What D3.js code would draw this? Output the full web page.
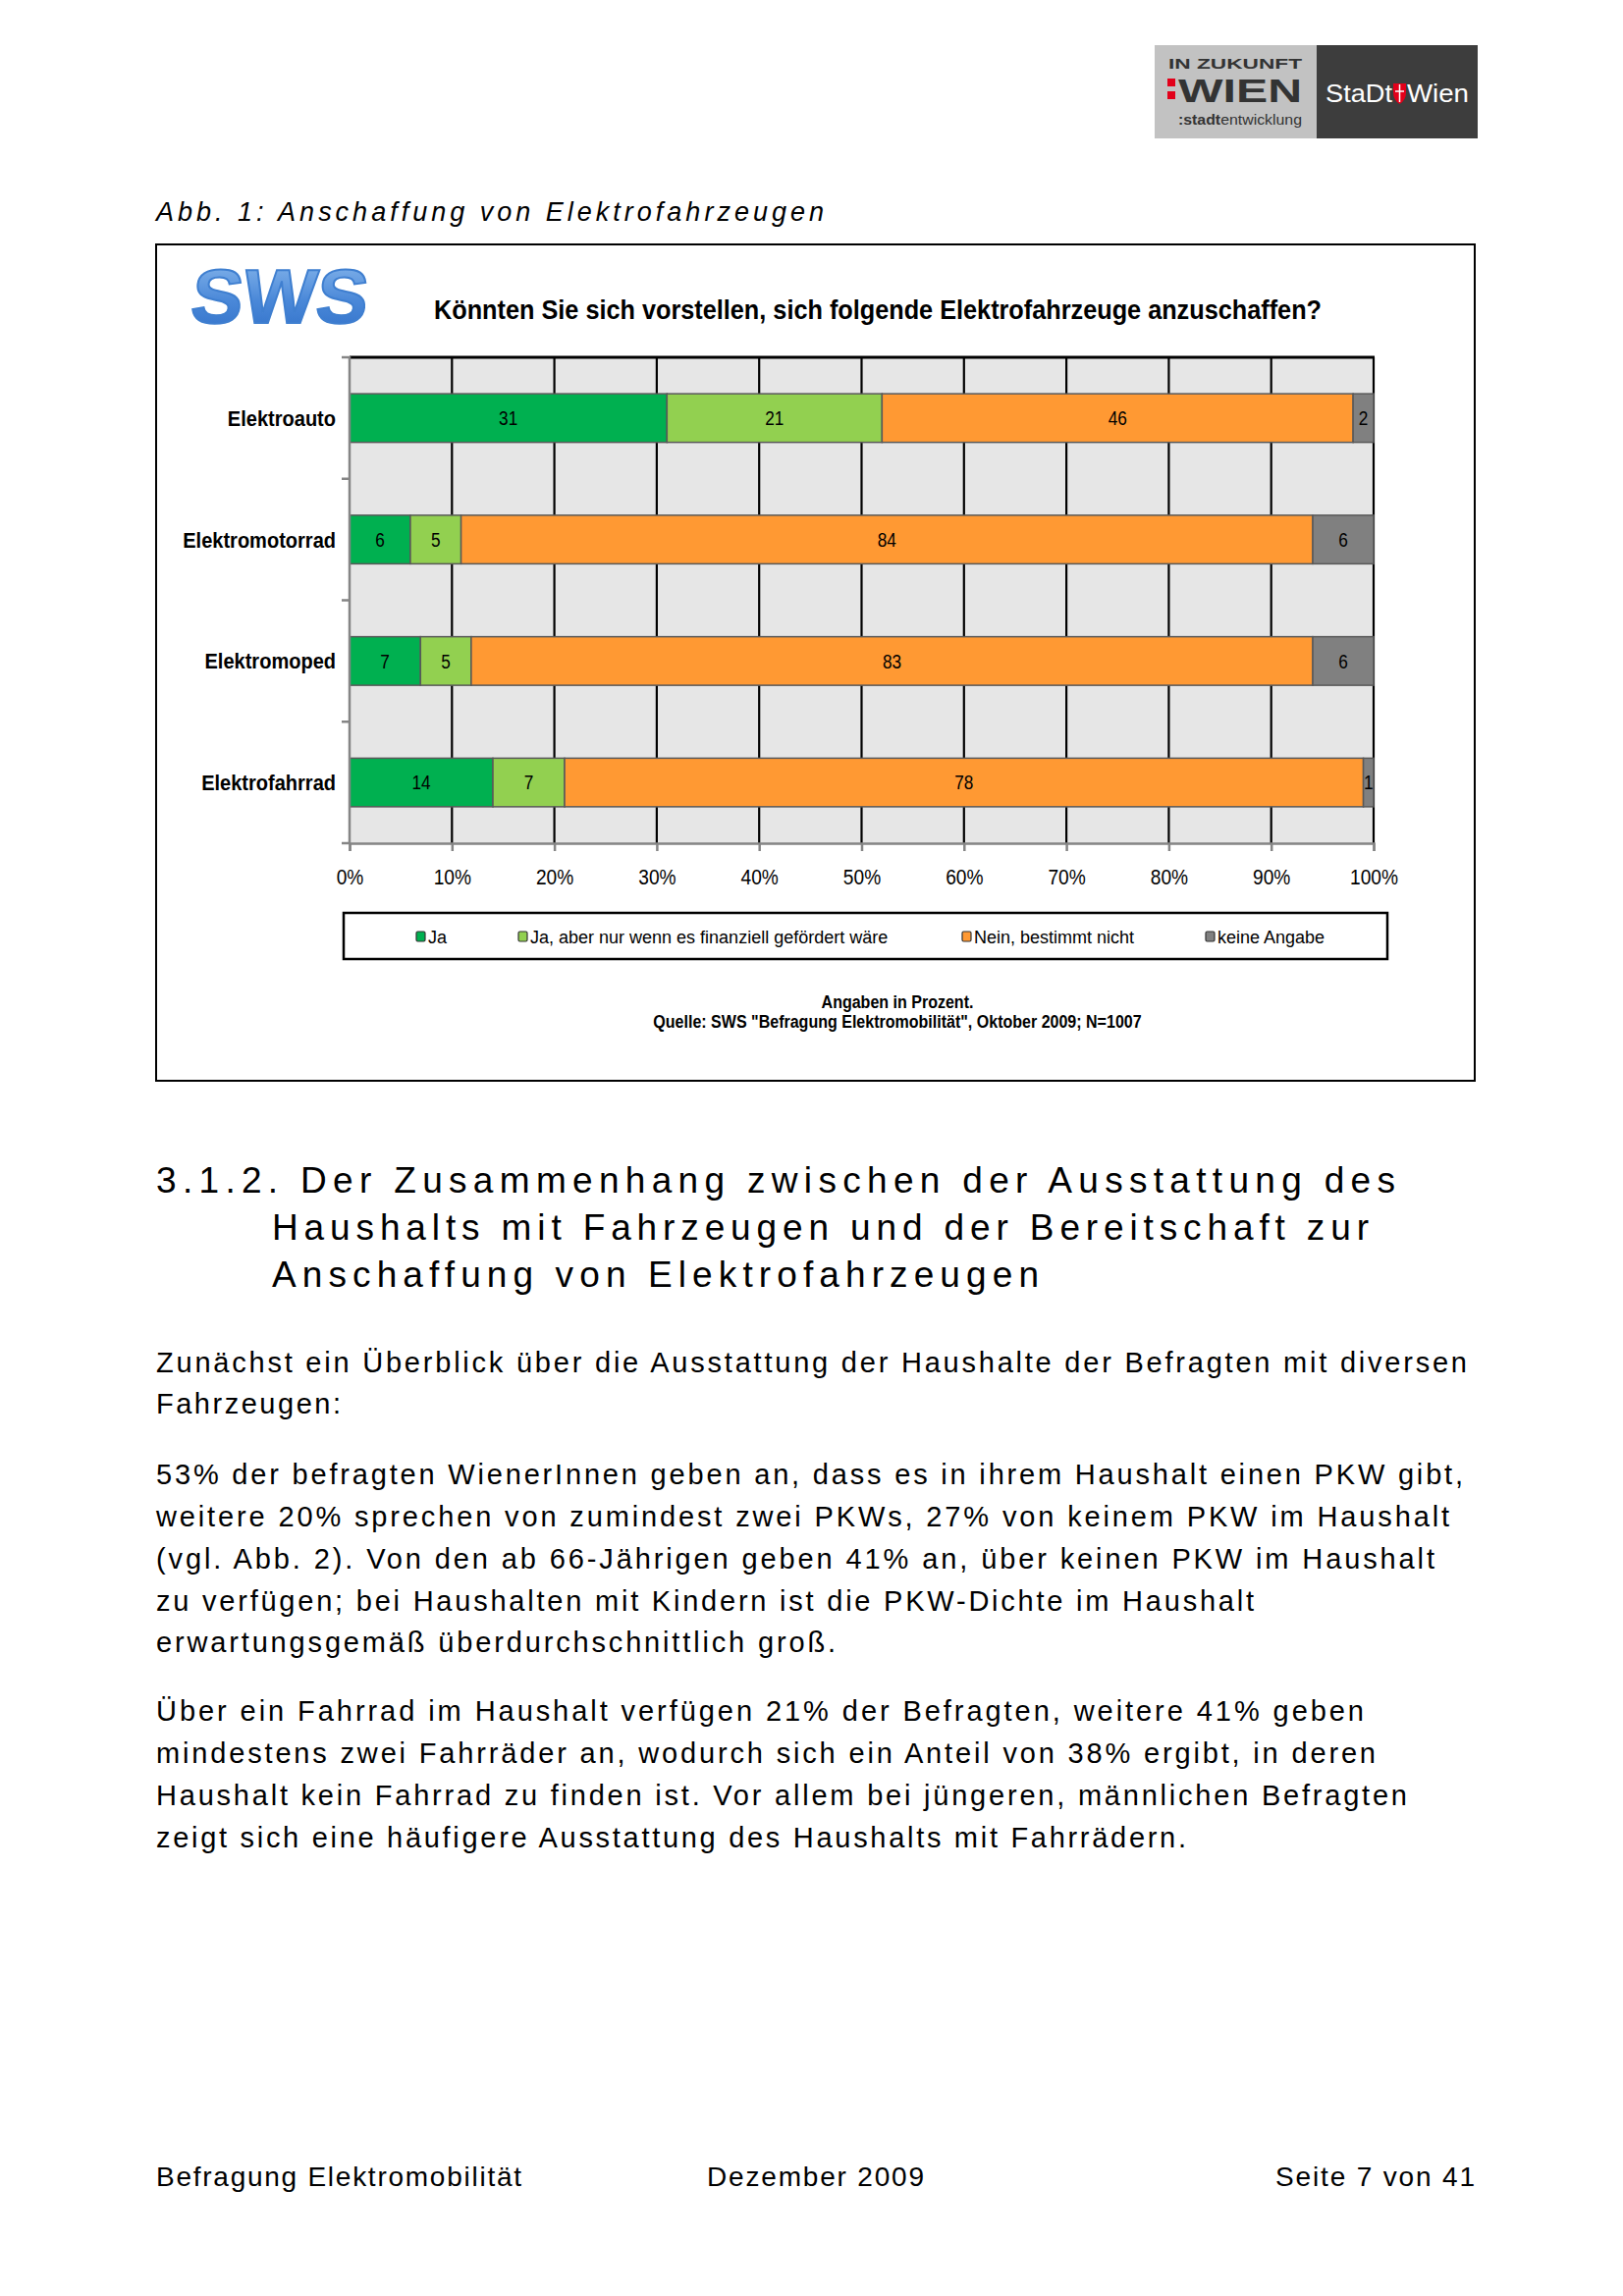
<!DOCTYPE html>
<html>
<head>
<meta charset="utf-8">
<script src="https://cdn.jsdelivr.net/npm/d3@7"></script>
<style>
body { margin: 0; background: #fff; }
svg text { font-family: "Liberation Sans", Arial, sans-serif; }
</style>
</head>
<body>
<script>
// ---------------- data ----------------
var categories = ["Elektroauto", "Elektromotorrad", "Elektromoped", "Elektrofahrrad"];
var seriesKeys = ["ja", "jaAber", "nein", "keine"];
var seriesNames = ["Ja", "Ja, aber nur wenn es finanziell gefördert wäre", "Nein, bestimmt nicht", "keine Angabe"];
var valJa     = [31, 6, 7, 14];
var valJaAber = [21, 5, 5, 7];
var valNein   = [46, 84, 83, 78];
var valKeine  = [2, 6, 6, 1];
var xTicks = [0, 10, 20, 30, 40, 50, 60, 70, 80, 90, 100];
var xTickLabels = xTicks.map(function (d) { return d + "%"; });
var colors = ["#00b050", "#92d050", "#ff9933", "#808080"];

var chartTitle = "Könnten Sie sich vorstellen, sich folgende Elektrofahrzeuge anzuschaffen?";
var note1 = "Angaben in Prozent.";
var note2 = "Quelle: SWS \"Befragung Elektromobilität\", Oktober 2009; N=1007";

// page text (line by line as in the document)
var caption = "Abb. 1: Anschaffung von Elektrofahrzeugen";
var headingLines = [
    "3.1.2. Der Zusammenhang zwischen der Ausstattung des",
    "Haushalts mit Fahrzeugen und der Bereitschaft zur",
    "Anschaffung von Elektrofahrzeugen"
];
var bodyLines = [
    "Zunächst ein Überblick über die Ausstattung der Haushalte der Befragten mit diversen",
    "Fahrzeugen:",
    "53% der befragten WienerInnen geben an, dass es in ihrem Haushalt einen PKW gibt,",
    "weitere 20% sprechen von zumindest zwei PKWs, 27% von keinem PKW im Haushalt",
    "(vgl. Abb. 2). Von den ab 66-Jährigen geben 41% an, über keinen PKW im Haushalt",
    "zu verfügen; bei Haushalten mit Kindern ist die PKW-Dichte im Haushalt",
    "erwartungsgemäß überdurchschnittlich groß.",
    "Über ein Fahrrad im Haushalt verfügen 21% der Befragten, weitere 41% geben",
    "mindestens zwei Fahrräder an, wodurch sich ein Anteil von 38% ergibt, in deren",
    "Haushalt kein Fahrrad zu finden ist. Vor allem bei jüngeren, männlichen Befragten",
    "zeigt sich eine häufigere Ausstattung des Haushalts mit Fahrrädern."
];
var footerTexts = ["Befragung Elektromobilität", "Dezember 2009", "Seite 7 von 41"];

// ---------------- layout ----------------
var W = 1653, H = 2339;
var plot = { left: 356, right: 1399, top: 364, bottom: 859 };

// no narrow font installed: squeeze a text horizontally to mimic Arial Narrow
function condense(sel, f) {
    sel.each(function () {
        var L = this.getComputedTextLength();
        d3.select(this).attr("textLength", L * f).attr("lengthAdjust", "spacingAndGlyphs");
    });
}

var svg = d3.select("body").append("svg")
    .attr("width", W)
    .attr("height", H);

svg.append("rect").attr("width", W).attr("height", H).attr("fill", "#fff");

// ---------------- logo top right ----------------
var logo = svg.append("g");
logo.append("rect").attr("x", 1176).attr("y", 46).attr("width", 165).attr("height", 95).attr("fill", "#c2c2c2");
logo.append("rect").attr("x", 1341).attr("y", 46).attr("width", 164).attr("height", 95).attr("fill", "#3d3d3d");
logo.append("text").attr("x", 1190).attr("y", 70).attr("font-size", 14).attr("font-weight", "bold")
    .attr("fill", "#333").attr("textLength", 136).attr("lengthAdjust", "spacingAndGlyphs").text("IN ZUKUNFT");
logo.append("rect").attr("x", 1189).attr("y", 80).attr("width", 8).attr("height", 8).attr("fill", "#e2001a");
logo.append("rect").attr("x", 1189).attr("y", 93).attr("width", 8).attr("height", 8).attr("fill", "#e2001a");
logo.append("text").attr("x", 1200).attr("y", 104).attr("font-size", 34).attr("font-weight", "bold")
    .attr("fill", "#333").attr("textLength", 126).attr("lengthAdjust", "spacingAndGlyphs").text("WIEN");
var st = logo.append("text").attr("x", 1200).attr("y", 127).attr("font-size", 15)
    .attr("fill", "#333").attr("textLength", 126).attr("lengthAdjust", "spacingAndGlyphs");
st.append("tspan").attr("font-weight", "bold").text(":stadt");
st.append("tspan").text("entwicklung");
logo.append("text").attr("x", 1350).attr("y", 104).attr("font-size", 25)
    .attr("font-family", "'Liberation Serif', 'DejaVu Serif', serif")
    .attr("fill", "#fff").attr("textLength", 68).attr("lengthAdjust", "spacingAndGlyphs").text("StaDt");
logo.append("path").attr("d", "M1419,85 h13 v9 q0,8 -6.5,12 q-6.5,-4 -6.5,-12 z").attr("fill", "#e2001a");
logo.append("path").attr("d", "M1425.5,86 v18 M1421,93 h9").attr("stroke", "#fff").attr("stroke-width", 1.5);
logo.append("text").attr("x", 1433).attr("y", 104).attr("font-size", 25)
    .attr("font-family", "'Liberation Serif', 'DejaVu Serif', serif")
    .attr("fill", "#fff").attr("textLength", 63).attr("lengthAdjust", "spacingAndGlyphs").text("Wien");

// ---------------- caption ----------------
svg.append("text")
    .attr("x", 159).attr("y", 225)
    .attr("font-size", 27).attr("font-style", "italic")
    .attr("textLength", 680).attr("lengthAdjust", "spacing")
    .text(caption);

// ---------------- chart frame ----------------
svg.append("rect")
    .attr("x", 159).attr("y", 249).attr("width", 1343).attr("height", 852)
    .attr("fill", "#fff").attr("stroke", "#000").attr("stroke-width", 2);

// SWS logo
var grad = svg.append("defs").append("linearGradient")
    .attr("id", "swsGrad").attr("x1", 0).attr("y1", 0).attr("x2", 0).attr("y2", 1);
grad.append("stop").attr("offset", "0%").attr("stop-color", "#8dbbee");
grad.append("stop").attr("offset", "55%").attr("stop-color", "#4a88d8");
grad.append("stop").attr("offset", "100%").attr("stop-color", "#2f6fc8");
svg.append("text")
    .attr("x", 193).attr("y", 329)
    .attr("font-size", 78).attr("font-weight", "bold")
    .attr("fill", "url(#swsGrad)")
    .attr("stroke", "#3f7fd0").attr("stroke-width", 2)
    .attr("transform", "skewX(-6) translate(34,0)")
    .attr("textLength", 180).attr("lengthAdjust", "spacingAndGlyphs")
    .text("SWS");

// title
svg.append("text")
    .attr("x", 442).attr("y", 325)
    .attr("font-size", 27).attr("font-weight", "bold")
    .attr("textLength", 904).attr("lengthAdjust", "spacingAndGlyphs")
    .text(chartTitle);

// ---------------- the bar chart ----------------
var table = categories.map(function (c, i) {
    return { cat: c, ja: valJa[i], jaAber: valJaAber[i], nein: valNein[i], keine: valKeine[i] };
});

var stack = d3.stack().keys(seriesKeys).offset(d3.stackOffsetExpand);
var series = stack(table);

var x = d3.scaleLinear().domain([0, 1]).range([plot.left, plot.right]);
var y = d3.scaleBand().domain(categories).range([plot.top, plot.bottom])
    .paddingInner(0.6).paddingOuter(0.3);

// background
svg.append("rect")
    .attr("x", plot.left).attr("y", plot.top)
    .attr("width", plot.right - plot.left).attr("height", plot.bottom - plot.top)
    .attr("fill", "#e6e6e6");

// vertical gridlines
svg.append("g").selectAll("line")
    .data(xTicks.slice(1))
    .enter().append("line")
    .attr("x1", function (d) { return x(d / 100); })
    .attr("x2", function (d) { return x(d / 100); })
    .attr("y1", plot.top).attr("y2", plot.bottom)
    .attr("stroke", "#000").attr("stroke-width", 2.2);

// top border
svg.append("line")
    .attr("x1", plot.left).attr("x2", plot.right + 1)
    .attr("y1", plot.top).attr("y2", plot.top)
    .attr("stroke", "#000").attr("stroke-width", 3);

// bars
var layer = svg.append("g").selectAll("g")
    .data(series)
    .enter().append("g")
    .attr("fill", function (d, i) { return colors[i]; });

layer.selectAll("rect")
    .data(function (d) { return d; })
    .enter().append("rect")
    .attr("x", function (d) { return x(d[0]); })
    .attr("y", function (d) { return y(d.data.cat); })
    .attr("width", function (d) { return x(d[1]) - x(d[0]); })
    .attr("height", y.bandwidth())
    .attr("stroke", "#595959").attr("stroke-width", 1.5);

// value labels
series.forEach(function (s) {
    svg.append("g").selectAll("text")
        .data(s)
        .enter().append("text")
        .attr("x", function (d) { return (x(d[0]) + x(d[1])) / 2; })
        .attr("y", function (d) { return y(d.data.cat) + y.bandwidth() / 2; })
        .attr("dy", "0.36em")
        .attr("text-anchor", "middle")
        .attr("font-size", 20)
        .text(function (d) { return d.data[s.key]; })
        .call(condense, 0.86);
});

// y axis
var yAxis = svg.append("g").attr("transform", "translate(" + plot.left + ",0)");
yAxis.append("line").attr("y1", plot.top - 1).attr("y2", plot.bottom + 1)
    .attr("stroke", "#858585").attr("stroke-width", 2.5);
var yBounds = d3.range(categories.length + 1).map(function (i) { return plot.top + i * y.step(); });
yAxis.selectAll(".tk").data(yBounds).enter().append("line")
    .attr("x1", -8).attr("x2", 0)
    .attr("y1", function (d) { return d; }).attr("y2", function (d) { return d; })
    .attr("stroke", "#858585").attr("stroke-width", 2.5);
yAxis.selectAll(".lbl").data(categories).enter().append("text")
    .attr("x", -14)
    .attr("y", function (d) { return y(d) + y.bandwidth() / 2; })
    .attr("dy", "0.36em")
    .attr("text-anchor", "end")
    .attr("font-weight", "bold")
    .attr("font-size", 22)
    .text(function (d) { return d; })
    .call(condense, 0.91);

// x axis
var xAxis = d3.axisBottom(x)
    .tickValues(xTicks.map(function (d) { return d / 100; }))
    .tickFormat(function (d, i) { return xTickLabels[i]; })
    .tickSize(8)
    .tickPadding(18);
var gx = svg.append("g").attr("transform", "translate(0," + plot.bottom + ")").call(xAxis);
gx.select(".domain").attr("stroke", "#858585").attr("stroke-width", 2.5);
gx.selectAll(".tick line").attr("stroke", "#858585").attr("stroke-width", 2.5);
gx.selectAll(".tick text")
    .attr("font-family", "Liberation Sans, Arial, sans-serif")
    .attr("font-size", 22).attr("fill", "#000")
    .call(condense, 0.87);

// legend
var legendX = [424, 528, 980, 1228];
svg.append("rect")
    .attr("x", 350).attr("y", 930).attr("width", 1063).attr("height", 47)
    .attr("fill", "#fff").attr("stroke", "#000").attr("stroke-width", 2.5);
var leg = svg.append("g").selectAll("g")
    .data(seriesNames)
    .enter().append("g")
    .attr("transform", function (d, i) { return "translate(" + legendX[i] + ",955)"; });
leg.append("rect")
    .attr("x", 0).attr("y", -6).attr("width", 9).attr("height", 10)
    .attr("rx", 1.5)
    .attr("fill", function (d, i) { return colors[i]; })
    .attr("stroke", "#333").attr("stroke-width", 1.2);
leg.append("text")
    .attr("x", 12).attr("y", 0).attr("dy", "0.35em")
    .attr("font-size", 18)
    .text(function (d) { return d; });

// notes
svg.append("text").attr("x", 914).attr("y", 1027)
    .attr("text-anchor", "middle")
    .attr("font-weight", "bold").attr("font-size", 18).text(note1)
    .call(condense, 0.89);
svg.append("text").attr("x", 914).attr("y", 1047)
    .attr("text-anchor", "middle")
    .attr("font-weight", "bold").attr("font-size", 18).text(note2)
    .call(condense, 0.89);

// ---------------- document text ----------------
var headX = [159, 277, 277];
var headW = [1262, 1117, 781];
var headY = [1215, 1263, 1311];
svg.append("g").selectAll("text")
    .data(headingLines)
    .enter().append("text")
    .attr("x", function (d, i) { return headX[i]; })
    .attr("y", function (d, i) { return headY[i]; })
    .attr("font-size", 37)
    .attr("textLength", function (d, i) { return headW[i]; })
    .attr("lengthAdjust", "spacing")
    .text(function (d) { return d; });

var bodyY = [1398, 1440, 1512, 1555, 1598, 1641, 1683, 1753, 1796, 1839, 1882];
var bodyW = [1335, 188, 1331, 1317, 1302, 1118, 692, 1230, 1242, 1274, 1049];
svg.append("g").selectAll("text")
    .data(bodyLines)
    .enter().append("text")
    .attr("x", 159)
    .attr("y", function (d, i) { return bodyY[i]; })
    .attr("font-size", 29)
    .attr("textLength", function (d, i) { return bodyW[i]; })
    .attr("lengthAdjust", "spacing")
    .text(function (d) { return d; });

var footX = [159, 720, 1502];
var footW = [372, 221, 203];
svg.append("g").selectAll("text")
    .data(footerTexts)
    .enter().append("text")
    .attr("x", function (d, i) { return i == 2 ? footX[i] - footW[i] : footX[i]; })
    .attr("y", 2227)
    .attr("font-size", 28)
    .attr("textLength", function (d, i) { return footW[i]; })
    .attr("lengthAdjust", "spacing")
    .text(function (d) { return d; });
</script>
</body>
</html>
